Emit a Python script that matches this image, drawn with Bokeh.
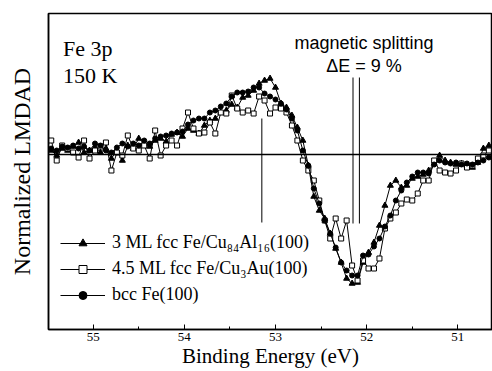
from bokeh.plotting import figure
from bokeh.models import Range1d, Span, Label, Legend, LegendItem, SingleIntervalTicker, FixedTicker
from bokeh.embed import file_html
from bokeh.resources import INLINE

# Binding energies (eV), shared by all three series
energy = [round(55.46 - 0.06 * i, 2) for i in range(81)]

fe_cual = [0.04, -0.01, 0.06, 0.04, 0.08, 0.12, 0.02, 0.04, 0.07, 0.02,
           0.06, -0.04, 0.04, -0.06, 0.09, 0.06, 0.16, 0.11, 0.08, 0.14,
           0.16, 0.13, 0.20, 0.22, 0.18, 0.26, 0.24, 0.21, 0.29, 0.34,
           0.36, 0.42, 0.44, 0.50, 0.47, 0.57, 0.59, 0.64, 0.71, 0.74,
           0.76, 0.67, 0.51, 0.47, 0.39, 0.27, 0.14, -0.11, -0.42, -0.56,
           -0.64, -0.79, -0.94, -1.08, -1.24, -1.29, -1.28, -1.08, -0.98, -0.88,
           -0.71, -0.51, -0.31, -0.26, -0.33, -0.31, -0.24, -0.22, -0.20, -0.16,
           -0.09, -0.01, -0.06, -0.08, -0.10, -0.09, -0.11, -0.13, -0.08, 0.06,
           0.09]

fe_cuau = [0.14, -0.06, 0.09, 0.06, 0.02, -0.03, 0.14, -0.04, 0.04, 0.08,
           0.12, -0.16, 0.02, -0.01, 0.19, 0.06, 0.04, 0.09, -0.04, 0.24,
           -0.01, 0.09, 0.14, 0.09, 0.26, 0.42, 0.26, 0.21, 0.22, 0.32,
           0.21, 0.42, 0.41, 0.59, 0.46, 0.42, 0.44, 0.41, 0.58, 0.54,
           0.41, 0.47, 0.46, 0.42, 0.29, 0.14, -0.06, -0.16, -0.26, -0.46,
           -0.66, -0.84, -0.64, -0.84, -0.66, -1.11, -1.26, -1.06, -1.14, -1.14,
           -1.04, -0.74, -0.64, -0.58, -0.49, -0.45, -0.46, -0.39, -0.26, -0.26,
           -0.06, -0.16, -0.18, -0.19, -0.16, -0.09, -0.13, -0.11, -0.04, -0.01,
           0.04]

fe_bcc = [0.06, 0.04, 0.08, 0.07, 0.09, 0.06, 0.08, 0.04, 0.11, 0.09,
          0.04, 0.02, 0.07, 0.11, 0.08, 0.11, 0.09, 0.14, 0.11, 0.16,
          0.18, 0.19, 0.21, 0.22, 0.23, 0.30, 0.34, 0.36, 0.36, 0.42,
          0.44, 0.48, 0.51, 0.58, 0.62, 0.62, 0.63, 0.67, 0.67, 0.61,
          0.58, 0.55, 0.51, 0.45, 0.36, 0.24, 0.04, -0.11, -0.34, -0.49,
          -0.66, -0.79, -0.93, -1.08, -1.16, -1.21, -1.21, -1.01, -1.00, -0.92,
          -0.84, -0.72, -0.61, -0.46, -0.36, -0.28, -0.22, -0.18, -0.18, -0.19,
          -0.10, -0.06, -0.08, -0.09, -0.08, -0.10, -0.09, -0.10, -0.08, -0.06,
          -0.03]

series_labels = ["3 ML fcc Fe/Cu\u2088\u2084Al\u2081\u2086(100)",
                 "4.5 ML fcc Fe/Cu\u2083Au(100)",
                 "bcc Fe(100)"]

# marker lines: energy, top, bottom
mark_x = [53.15, 52.15, 52.08]
mark_top = [0.36, 0.77, 0.77]
mark_bottom = [-0.68, -0.69, -0.69]

x_ticks_interval = 1

SERIF = "Liberation Serif"
SANS = "Liberation Sans"

p = figure(width=492, height=371, output_backend="svg", toolbar_location=None,
           x_range=Range1d(55.49, 50.62), y_range=Range1d(-1.75, 1.41),
           min_border_left=48, min_border_right=0, min_border_top=13, min_border_bottom=42,
           background_fill_color="white", border_fill_color="white")
p.grid.visible = False
p.outline_line_color = "black"
p.outline_line_width = 1.5

# x axis
p.xaxis.ticker = SingleIntervalTicker(interval=x_ticks_interval, num_minor_ticks=2)
p.xaxis.axis_line_width = 1.5
p.xaxis.major_tick_in = 5
p.xaxis.major_tick_out = 0
p.xaxis.minor_tick_in = 3
p.xaxis.minor_tick_out = 0
p.xaxis.major_label_text_font = SERIF
p.xaxis.major_label_text_font_size = "13px"
p.xaxis.major_label_text_color = "black"
p.xaxis.major_label_standoff = 3
p.xaxis.axis_label = "Binding Energy (eV)"
p.xaxis.axis_label_text_font = SERIF
p.xaxis.axis_label_text_font_size = "21px"
p.xaxis.axis_label_text_font_style = "normal"
p.xaxis.axis_label_text_color = "black"
p.xaxis.axis_label_standoff = 0

# y axis
p.yaxis.ticker = FixedTicker(ticks=[])
p.yaxis.axis_line_width = 1.5
p.yaxis.major_tick_line_color = None
p.yaxis.minor_tick_line_color = None
p.yaxis.axis_label = "Normalized LMDAD"
p.yaxis.axis_label_text_font = SERIF
p.yaxis.axis_label_text_font_size = "24px"
p.yaxis.axis_label_text_font_style = "normal"
p.yaxis.axis_label_text_color = "black"
p.yaxis.axis_label_standoff = 14

p.add_layout(Span(location=0, dimension="width", line_color="black", line_width=1.5))

p.segment(x0=mark_x, y0=mark_bottom, x1=mark_x, y1=mark_top, line_color="black", line_width=1)

l1 = p.line(energy, fe_cual, line_color="black", line_width=1)
s1 = p.scatter(energy, fe_cual, marker="triangle", size=6, fill_color="black", line_color="black")
l2 = p.line(energy, fe_cuau, line_color="black", line_width=1)
s2 = p.scatter(energy, fe_cuau, marker="square", size=5, fill_color="white", line_color="black", line_width=1)
l3 = p.line(energy, fe_bcc, line_color="black", line_width=1)
s3 = p.scatter(energy, fe_bcc, marker="circle", size=5, fill_color="black", line_color="black")
items = [LegendItem(label=series_labels[0], renderers=[l1, s1]),
         LegendItem(label=series_labels[1], renderers=[l2, s2]),
         LegendItem(label=series_labels[2], renderers=[l3, s3])]

legend = Legend(items=items, location=(12, 24), orientation="vertical",
                border_line_color=None, background_fill_alpha=0,
                padding=0, margin=0, spacing=5,
                glyph_width=45, glyph_height=20, label_height=20, label_standoff=7,
                label_text_font=SERIF, label_text_font_size="18px", label_text_color="black")
p.add_layout(legend, "center")

for txt, xx, yy in [("Fe 3p", 55.33, 1.06), ("150 K", 55.33, 0.79)]:
    p.add_layout(Label(x=xx, y=yy, text=txt, text_font=SERIF, text_font_size="22px",
                       text_baseline="alphabetic", text_align="left", text_color="black"))
for txt, xx, yy in [("magnetic splitting", 52.03, 1.12), ("\u0394E = 9 %", 52.03, 0.89)]:
    p.add_layout(Label(x=xx, y=yy, text=txt, text_font=SANS, text_font_size="18px",
                       text_baseline="alphabetic", text_align="center", text_color="black"))

open("out.html", "w").write(file_html(p, INLINE))
